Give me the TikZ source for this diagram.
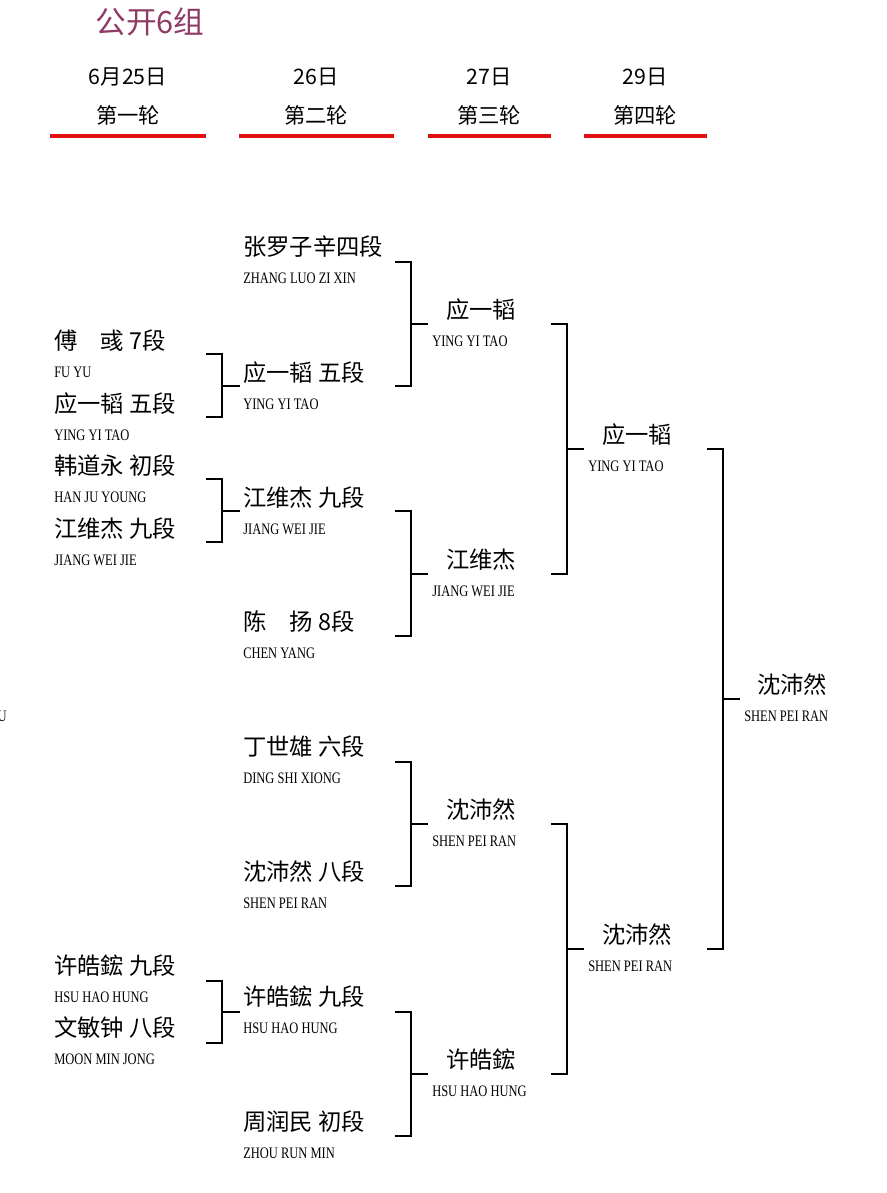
\documentclass[tikz,border=0pt]{standalone}
\usepackage{fontspec}
\setmainfont{Liberation Serif}
\newfontfamily\cjk{Noto Sans CJK SC}
\newfontfamily\latf{Liberation Serif}[FakeStretch=0.78]
\definecolor{ttl}{HTML}{8E3B66}
\definecolor{rl}{HTML}{E01010}
\begin{document}
\begin{tikzpicture}[x=0.75pt,y=-0.75pt,
  cn/.style={anchor=west,inner sep=0,font=\cjk\fontsize{17.5}{18}\selectfont},
  en/.style={anchor=west,inner sep=0,font=\latf\fontsize{12}{13}\selectfont},
  hd/.style={inner sep=0,font=\cjk\fontsize{16}{17}\selectfont},
  red/.style={draw=rl,line width=3pt},
  br/.style={draw=black,line width=1.5pt}]
\useasboundingbox (0,0) rectangle (887,1193);
\node[inner sep=0,text=ttl,font=\cjk\fontsize{23}{24}\selectfont] (title) at (150,22) {公开6组};
\foreach \cx/\d/\r/\a/\b [count=\i] in {128/6月25日/第一轮/50/206,316/26日/第二轮/239/394,489/27日/第三轮/428/551,645/29日/第四轮/584/707}{
  \node[hd] (d\i) at (\cx,77) {\d};
  \node[hd] (r\i) at (\cx,115) {\r};
  \draw[red] (\a,136) -- (\b,136);
}
% round 1
\foreach \n/\c/\e/\y in {a/傅\quad 彧 7段/FU YU/341, b/应一韬\ 五段/YING YI TAO/404, c/韩道永\ 初段/HAN JU YOUNG/466, d/江维杰\ 九段/JIANG WEI JIE/529, e/许皓鋐\ 九段/HSU HAO HUNG/966, f/文敏钟\ 八段/MOON MIN JONG/1028}{
  \node[cn] (p1\n) at (54,\y) {\c};
  \node[en] (q1\n) at (54,\y+31) {\e};
}
% round 2
\foreach \n/\c/\e/\y in {a/张罗子辛四段/ZHANG LUO ZI XIN/247, b/应一韬\ 五段/YING YI TAO/373, c/江维杰\ 九段/JIANG WEI JIE/498, d/陈\quad 扬 8段/CHEN YANG/622, e/丁世雄\ 六段/DING SHI XIONG/747, f/沈沛然\ 八段/SHEN PEI RAN/872, g/许皓鋐\ 九段/HSU HAO HUNG/997, h/周润民\ 初段/ZHOU RUN MIN/1122}{
  \node[cn] (p2\n) at (243,\y) {\c};
  \node[en] (q2\n) at (243,\y+31) {\e};
}
% round 3
\foreach \n/\c/\e/\y in {a/应一韬/YING YI TAO/310, b/江维杰/JIANG WEI JIE/560, c/沈沛然/SHEN PEI RAN/810, d/许皓鋐/HSU HAO HUNG/1060}{
  \node[cn] (p3\n) at (446,\y) {\c};
  \node[en] (q3\n) at (432,\y+31) {\e};
}
% round 4
\foreach \n/\c/\e/\y in {a/应一韬/YING YI TAO/435, b/沈沛然/SHEN PEI RAN/935}{
  \node[cn] (p4\n) at (602,\y) {\c};
  \node[en] (q4\n) at (588,\y+31) {\e};
}
\node[cn] (p5) at (757,685) {沈沛然};
\node[en] (q5) at (744,716) {SHEN PEI RAN};
\node[en,anchor=east] (stray) at (7,716) {U};
% brackets
\newcommand{\brk}[5]{\draw[br] (#1,#3) -| (#2,#4) -- (#1,#4); \draw[br] (#2,{(#3+#4)/2}) -- (#5,{(#3+#4)/2});}
\brk{206}{222}{354}{417}{240}
\brk{206}{222}{479}{542}{240}
\brk{206}{222}{981}{1043}{240}
\brk{395}{411}{262}{386}{428}
\brk{395}{411}{511}{636}{428}
\brk{395}{411}{762}{886}{428}
\brk{395}{411}{1012}{1136}{428}
\brk{551}{567}{324}{574}{584}
\brk{551}{567}{824}{1074}{584}
\brk{707}{723}{449}{949}{740}
\end{tikzpicture}
\end{document}
